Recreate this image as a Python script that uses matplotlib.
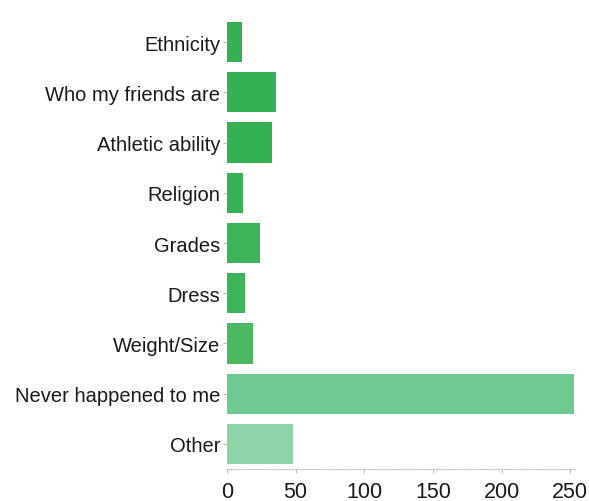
import matplotlib
matplotlib.use("Agg")
import matplotlib.pyplot as plt

categories = ["Ethnicity", "Who my friends are", "Athletic ability", "Religion",
              "Grades", "Dress", "Weight/Size", "Never happened to me", "Other"]
values = [11, 36, 33, 12, 24, 13, 19, 253, 48]
colors = ["#34b052", "#34b052", "#34b052", "#36b153", "#3db457",
          "#3db457", "#4cb962", "#6fca8f", "#8ed4a9"]
xticks = [0, 50, 100, 150, 200, 250]

plt.rcParams['font.family'] = ['Liberation Sans', 'DejaVu Sans']
fig = plt.figure(figsize=(5.89, 5.02), dpi=100)
ax = fig.add_axes([227/589, 1 - 470/502, (575-227)/589, (470-18)/502])

y = list(range(len(categories)))
ax.barh(y, values, height=0.8, color=colors, edgecolor='none')
ax.set_ylim(len(categories) - 0.5, -0.5)
ax.set_xlim(0, 253.5)
ax.set_yticks(y)
ax.set_yticklabels(categories, fontsize=14.5, color='#1a1a1a')
ax.set_xticks(xticks)
ax.set_xticklabels([str(t) for t in xticks], fontsize=15.5, color='#1a1a1a')
for s in ['top', 'right', 'left']:
    ax.spines[s].set_visible(False)
ax.spines['bottom'].set_color('#bbbbbb')
ax.spines['bottom'].set_linestyle(':')
ax.spines['bottom'].set_linewidth(0.8)
ax.tick_params(axis='y', length=3, color='#bbbbbb', pad=2)
ax.tick_params(axis='x', length=3, color='#bbbbbb', pad=6)
fig.savefig("out.png", dpi=100)
